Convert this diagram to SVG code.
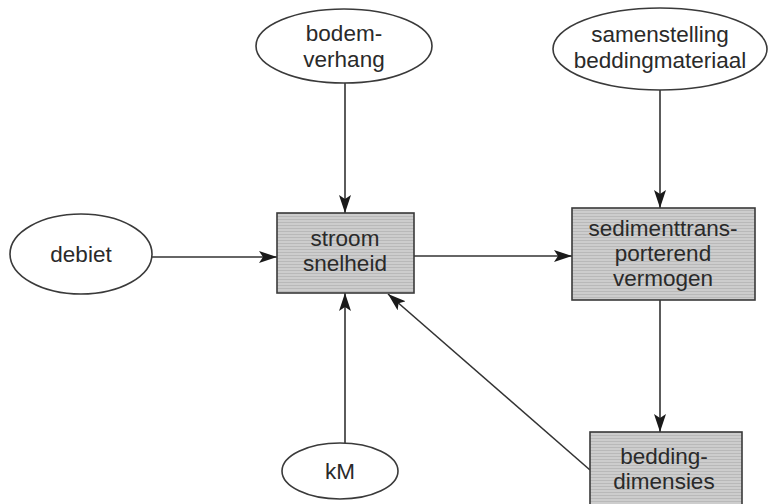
<svg xmlns="http://www.w3.org/2000/svg" width="769" height="504" viewBox="0 0 769 504">
<defs>
<pattern id="tex" width="4" height="3" patternUnits="userSpaceOnUse">
<rect width="4" height="3" fill="#cdcdcd"/>
<rect width="4" height="1" fill="#b9b9b9"/>
</pattern>
<marker id="ah" markerWidth="18" markerHeight="12" refX="18" refY="6" orient="auto" markerUnits="userSpaceOnUse">
<path d="M0,0 L18,6 L0,12 L4,6 Z" fill="#1a1a1a"/>
</marker>
<style>
.ell{fill:#fff;stroke:#3a3a3a;stroke-width:1.6}
.box{fill:url(#tex);stroke:#3a3a3a;stroke-width:1.6}
.t{font-family:"Liberation Sans",Arial,sans-serif;font-size:22.5px;fill:#2a2a2a;text-anchor:middle}
.c{stroke:#333;stroke-width:1.6;fill:none;marker-end:url(#ah)}
</style>
</defs>
<rect width="769" height="504" fill="#fff"/>
<g id="connectors">
<line class="c" x1="345" y1="83" x2="345" y2="213"/>
<line class="c" x1="660" y1="90" x2="660" y2="208"/>
<line class="c" x1="152" y1="257" x2="277" y2="257"/>
<line class="c" x1="414" y1="256" x2="572" y2="256"/>
<line class="c" x1="345" y1="443" x2="345" y2="293"/>
<line class="c" x1="660" y1="300" x2="660" y2="432"/>
<line class="c" x1="590" y1="470" x2="388" y2="294"/>
</g>
<g id="bodemverhang">
<ellipse class="ell" cx="344" cy="46" rx="88" ry="37"/>
<text class="t" x="344" y="41">bodem-</text>
<text class="t" x="344" y="67">verhang</text>
</g>
<g id="samenstelling">
<ellipse class="ell" cx="660" cy="49" rx="107" ry="41"/>
<text class="t" x="660" y="42">samenstelling</text>
<text class="t" x="660" y="68">beddingmateriaal</text>
</g>
<g id="debiet">
<ellipse class="ell" cx="81" cy="254" rx="71" ry="40"/>
<text class="t" x="81" y="262">debiet</text>
</g>
<g id="stroomsnelheid">
<rect class="box" x="277" y="213" width="137" height="80"/>
<text class="t" x="345" y="246">stroom</text>
<text class="t" x="345" y="271">snelheid</text>
</g>
<g id="sedimenttransport">
<rect class="box" x="572" y="208" width="183" height="92"/>
<text class="t" x="663" y="236">sedimenttrans-</text>
<text class="t" x="663" y="261">porterend</text>
<text class="t" x="663" y="286">vermogen</text>
</g>
<g id="kM">
<ellipse class="ell" cx="340" cy="471" rx="58" ry="28"/>
<text class="t" x="340" y="479">kM</text>
</g>
<g id="beddingdimensies">
<rect class="box" x="590" y="432" width="152" height="80"/>
<text class="t" x="664" y="464">bedding-</text>
<text class="t" x="664" y="489">dimensies</text>
</g>
</svg>
